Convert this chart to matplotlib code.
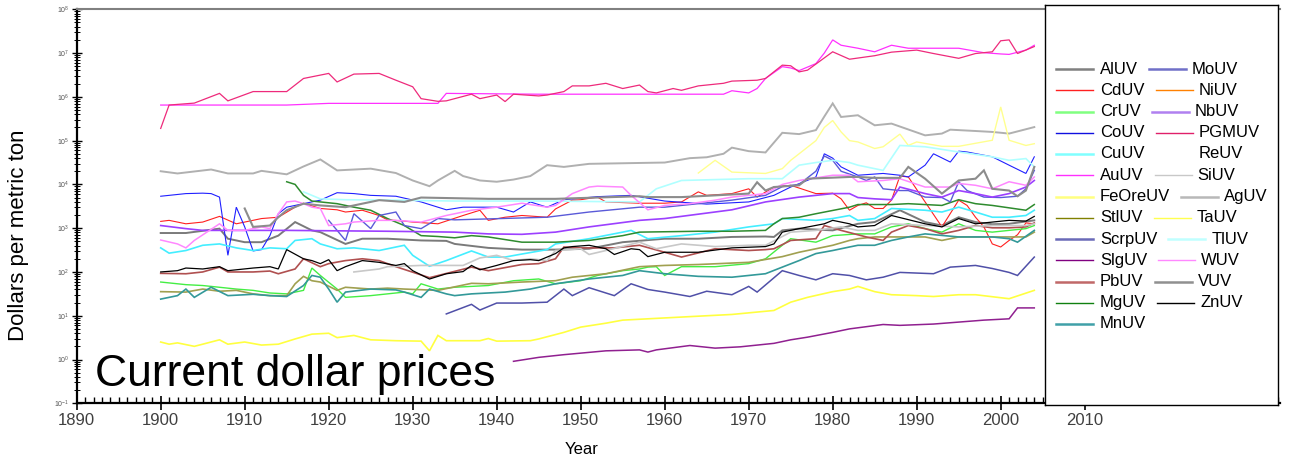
import matplotlib
matplotlib.use("Agg")
import matplotlib.pyplot as plt
from matplotlib.ticker import LogLocator, NullFormatter, FixedLocator, MultipleLocator

# ---- data: unit values, dollars per metric ton ----
au_years = [1900,1915,1920,1933,1934,1945,1955,1967,1968,1970,1971,1972,1974,1975,1976,1978,1979,1980,1981,1983,1985,1987,1989,1991,1995,1998,2000,2001,2003,2004]
au_vals = [6.5e5,6.5e5,7.1e5,7.1e5,1.2e6,1.15e6,1.15e6,1.15e6,1.38e6,1.23e6,1.55e6,2.63e6,4.9e6,4.57e6,3.98e6,5.75e6,1.0e7,2.0e7,1.51e7,1.29e7,1.07e7,1.51e7,1.29e7,1.29e7,1.29e7,1.02e7,9.55e6,9.33e6,1.17e7,1.51e7]

pgm_years = [1900,1901,1904,1907,1908,1911,1915,1917,1920,1921,1923,1926,1928,1930,1931,1933,1934,1937,1938,1940,1941,1942,1945,1946,1948,1949,1951,1953,1955,1957,1958,1959,1961,1962,1964,1967,1968,1971,1972,1974,1975,1976,1977,1980,1982,1985,1987,1990,1992,1995,1997,1999,2000,2001,2002,2004]
pgm_vals = [1.9e5,6.5e5,7.2e5,1.2e6,8.1e5,1.32e6,1.32e6,2.63e6,3.43e6,2.19e6,3.31e6,3.43e6,2.4e6,1.7e6,9.1e5,7.9e5,8.1e5,1.15e6,9.1e5,1.1e6,7.8e5,1.15e6,1.05e6,1.1e6,1.32e6,1.78e6,1.78e6,2.04e6,1.55e6,1.86e6,1.32e6,1.23e6,1.55e6,1.41e6,1.78e6,2.04e6,2.29e6,2.4e6,2.63e6,5.3e6,5.13e6,3.72e6,4.07e6,1.07e7,7.24e6,8.71e6,1.05e7,1.17e7,9.77e6,7.59e6,9.77e6,1.07e7,1.91e7,2.0e7,9.77e6,1.41e7]

ag_years = [1900,1902,1906,1908,1911,1912,1915,1917,1919,1921,1925,1928,1930,1932,1933,1935,1936,1938,1940,1942,1944,1946,1948,1951,1957,1960,1963,1965,1967,1968,1970,1972,1974,1976,1978,1979,1980,1981,1983,1985,1987,1991,1993,1994,1997,1999,2001,2004]
ag_vals = [2.0e4,1.78e4,2.19e4,1.78e4,1.78e4,2.04e4,1.7e4,2.57e4,3.72e4,2.09e4,2.29e4,1.82e4,1.23e4,9.1e3,1.23e4,2.04e4,1.55e4,1.23e4,1.15e4,1.29e4,1.55e4,2.75e4,2.51e4,2.95e4,3.09e4,3.16e4,3.98e4,4.17e4,5.01e4,6.92e4,5.75e4,5.37e4,1.51e5,1.41e5,1.74e5,3.55e5,7.08e5,3.47e5,3.8e5,2.24e5,2.45e5,1.32e5,1.45e5,1.78e5,1.66e5,1.58e5,1.45e5,2.04e5]

ta_years = [1964,1966,1968,1972,1974,1975,1976,1978,1979,1980,1981,1982,1983,1985,1986,1988,1989,1990,1993,1995,1999,2000,2001,2003,2004]
ta_vals = [1.82e4,3.55e4,1.91e4,1.78e4,2.29e4,3.55e4,5.01e4,1.0e5,2.0e5,2.88e5,1.58e5,1.0e5,9.33e4,6.61e4,7.24e4,1.41e5,7.76e4,9.33e4,7.41e4,7.41e4,1.02e5,5.89e5,1.02e5,7.76e4,8.51e4]

fe_years = [1900,1901,1902,1904,1905,1907,1908,1910,1912,1914,1916,1918,1920,1921,1923,1925,1928,1931,1932,1933,1934,1938,1939,1940,1944,1945,1948,1950,1953,1955,1958,1960,1963,1968,1973,1975,1977,1980,1982,1983,1985,1987,1990,1992,1995,1997,2001,2004]
fe_vals = [2.51,2.24,2.4,2.0,2.24,2.82,2.24,2.51,2.14,2.24,2.95,3.8,3.98,3.16,3.55,2.82,2.69,2.63,1.58,3.55,2.69,2.69,3.02,2.63,2.69,2.95,4.17,5.5,6.76,7.94,8.51,8.91,9.55,10.7,13.2,20.4,26.3,35.5,40.7,46.8,35.5,30.2,28.8,27.5,30.2,30.2,24.5,38.0]

tl_years = [1917,1919,1922,1928,1935,1945,1957,1959,1962,1970,1974,1976,1978,1980,1982,1983,1985,1986,1988,1991,1995,1999,2001,2003,2004]
tl_vals = [6760,4680,4470,4370,4170,4170,3980,7940,12300,13500,13500,27500,31600,35500,31600,27500,22900,20900,77600,72400,55000,42700,35500,38900,25100]

co_years = [1900,1903,1905,1906,1907,1908,1909,1910,1911,1912,1913,1914,1915,1917,1919,1921,1923,1925,1928,1931,1934,1936,1940,1942,1944,1946,1948,1952,1956,1960,1965,1970,1973,1975,1978,1979,1980,1981,1983,1986,1988,1989,1991,1992,1994,1995,1996,1999,2001,2003,2004]
co_vals = [5370,6170,6310,6170,5130,240,3020,1070,302,324,676,2140,3020,3630,4370,6460,6170,5620,5370,3980,2630,3020,3020,2340,3980,3020,4470,5250,5620,4170,3550,3980,5620,8710,14800,50100,39800,25100,16200,17800,16200,14800,27500,50100,32400,57500,55000,42700,27500,17800,42700]

mo_years = [1920,1922,1923,1925,1926,1928,1929,1931,1933,1935,1946,1951,1957,1960,1964,1968,1972,1974,1976,1978,1979,1980,1981,1983,1984,1985,1986,1988,1989,1991,1993,1994,1995,1996,1998,2000,2002,2003,2004]
mo_vals = [1510,525,2140,977,1950,2340,1150,977,1660,1550,1780,2340,3020,3020,3630,4370,5620,8910,10000,20000,44700,35500,20000,14800,12300,14800,7940,7240,7240,5130,5010,3980,11500,7240,5130,5010,5370,7940,20900]

scrp_years = [1934,1937,1938,1940,1943,1946,1948,1949,1951,1954,1956,1958,1960,1963,1965,1968,1970,1971,1974,1976,1978,1980,1982,1984,1986,1988,1992,1994,1997,1999,2001,2002,2004]
scrp_vals = [11.0,18.2,13.5,19.5,19.5,20.4,40.7,28.8,43.7,28.8,53.7,39.8,34.7,27.5,36.3,30.2,46.8,34.7,107,83.2,66.1,91.2,83.2,66.1,75.9,97.7,91.2,129,141,120,97.7,83.2,219]

slg_years = [1942,1945,1948,1953,1957,1958,1959,1963,1966,1969,1973,1975,1977,1980,1982,1986,1988,1992,1998,2001,2002,2004]
slg_vals = [0.91,1.12,1.29,1.58,1.66,1.48,1.66,2.09,1.82,1.95,2.34,2.82,3.24,4.17,5.01,6.31,6.03,6.46,7.94,8.51,15.1,15.1]

cd_years = [1900,1901,1903,1905,1907,1909,1910,1912,1914,1916,1917,1919,1921,1922,1924,1926,1927,1929,1930,1933,1936,1938,1939,1941,1943,1946,1947,1949,1950,1952,1953,1957,1960,1962,1964,1965,1968,1970,1971,1973,1975,1978,1980,1981,1982,1983,1984,1985,1986,1987,1988,1989,1991,1993,1995,1996,1997,1998,1999,2000,2001,2002,2003,2004]
cd_vals = [1430,1510,1260,1380,1860,1260,1380,1660,1780,3020,3720,2820,2630,2340,2570,1950,1550,1450,1380,1260,1950,2570,1510,1780,1950,1780,2750,4370,4470,5130,3980,3720,3720,3980,6760,5620,6170,7940,5130,8710,9550,6170,6310,4680,2570,3310,3800,2820,2820,4370,15500,14800,3980,1070,4370,3310,1780,1070,437,372,525,708,1320,1260]

nb_years = [1900,1903,1905,1915,1927,1935,1939,1943,1947,1951,1957,1960,1964,1968,1972,1976,1980,1982,1983,1985,1987,1988,1991,1993,1995,1997,1999,2001,2003,2004]
nb_vals = [1150,977,891,891,851,813,741,724,813,1070,1510,1660,2090,2630,3980,5130,6170,6170,5010,4680,4470,8710,6170,5130,7240,6170,5130,6170,8710,12300]

w_years = [1900,1902,1903,1904,1907,1908,1910,1912,1913,1914,1915,1916,1917,1918,1919,1920,1922,1923,1926,1928,1931,1934,1937,1940,1943,1946,1947,1949,1951,1952,1955,1956,1958,1960,1963,1966,1968,1972,1974,1976,1980,1982,1983,1986,1988,1991,1994,1995,1997,1999,2001,2003,2004]
w_vals = [537,437,355,525,1260,891,891,1070,977,2140,3980,4170,3630,3020,2820,1150,1260,1380,1510,1510,1380,1950,2570,3020,3720,3020,3310,6170,8710,9120,8710,5620,2630,3310,3630,4370,5130,6170,10000,12300,16200,16200,11500,12300,13500,8710,8710,10500,9550,7940,11500,9550,14800]

v_years = [1910,1911,1913,1914,1915,1917,1919,1922,1923,1926,1929,1931,1939,1947,1957,1958,1962,1966,1970,1971,1972,1973,1976,1977,1982,1983,1985,1988,1989,1991,1993,1994,1995,1997,1998,1999,2001,2002,2003,2004]
v_vals = [2820,1070,1150,1780,2570,3630,3310,3020,3310,4370,3980,5010,4680,4680,5370,5130,5130,5620,6170,11200,7240,8710,9550,13500,14800,14800,14100,14100,25100,13500,6170,8710,12300,13500,20900,7940,7240,5370,7240,25100]

al_years = [1900,1903,1907,1908,1910,1912,1914,1916,1918,1919,1922,1924,1927,1931,1934,1935,1939,1943,1947,1951,1955,1960,1964,1968,1972,1973,1974,1976,1980,1983,1985,1988,1991,1993,1995,1997,1999,2001,2004]
al_vals = [776,776,977,575,479,479,676,1380,891,813,437,575,575,525,513,437,355,324,324,339,479,575,575,631,646,631,891,977,891,1260,1380,2570,1380,1150,1780,1380,1230,1260,1510]

cu_years = [1900,1901,1903,1905,1907,1909,1911,1913,1915,1916,1918,1919,1921,1923,1926,1929,1930,1932,1934,1937,1939,1941,1943,1946,1947,1951,1955,1956,1958,1962,1966,1970,1973,1974,1978,1980,1982,1983,1985,1987,1991,1993,1995,1997,1999,2001,2003,2004]
cu_vals = [355,269,309,407,437,355,309,355,339,525,575,437,339,355,309,407,240,135,182,302,219,219,257,324,437,575,813,891,575,676,813,1070,1260,1660,1510,1660,1950,1510,1660,2820,2570,2340,3020,2340,1780,1780,1950,2570]

zn_years = [1900,1902,1903,1905,1907,1908,1911,1913,1914,1915,1917,1918,1919,1920,1921,1922,1924,1926,1928,1929,1930,1932,1934,1936,1937,1938,1940,1942,1944,1945,1947,1948,1949,1951,1953,1954,1956,1957,1958,1960,1964,1968,1972,1973,1974,1976,1979,1980,1982,1983,1985,1987,1991,1993,1995,1997,1999,2001,2003,2004]
zn_vals = [100,107,123,117,132,107,123,132,117,324,200,182,155,191,107,132,182,166,141,155,107,69,91,102,141,112,141,182,191,182,263,355,380,407,339,251,339,324,224,282,282,355,380,437,813,977,1260,1510,1260,1070,1150,1950,1260,1070,1660,1260,1380,1510,1450,1860]

pb_years = [1900,1903,1905,1907,1908,1911,1913,1914,1916,1917,1919,1920,1922,1924,1926,1928,1932,1937,1939,1943,1945,1947,1948,1950,1952,1954,1957,1960,1962,1966,1970,1972,1973,1975,1978,1979,1981,1983,1984,1986,1987,1989,1991,1993,1995,1997,1999,2001,2003,2004]
pb_vals = [93,91,100,129,100,100,105,91,117,200,132,155,182,200,182,132,74,129,107,148,155,200,372,355,355,355,407,282,219,339,309,324,339,525,575,1150,891,708,631,525,813,1150,977,741,891,1150,1020,1020,1070,1320]

si_years = [1923,1926,1927,1931,1936,1938,1940,1942,1944,1946,1947,1950,1951,1953,1957,1959,1962,1966,1970,1972,1975,1978,1981,1983,1985,1987,1991,1995,1999,2003,2004]
si_vals = [100,117,132,141,141,209,240,182,200,182,309,339,251,309,479,339,437,380,407,407,813,891,1070,891,891,1260,1150,1070,1150,1150,1260]

mg_years = [1915,1916,1917,1918,1921,1923,1925,1927,1929,1931,1933,1935,1937,1939,1943,1947,1951,1955,1957,1964,1968,1972,1973,1974,1976,1978,1982,1983,1987,1989,1993,1995,1997,1999,2003,2004]
mg_vals = [11500,10000,5620,4170,3630,3020,2570,1660,1150,676,646,603,676,631,479,479,525,676,813,851,851,891,1260,1660,1780,2140,3020,3470,3470,3630,3310,4470,3630,3310,2570,3470]

cr_years = [1900,1903,1905,1907,1909,1911,1913,1915,1917,1918,1919,1921,1922,1925,1927,1929,1930,1931,1933,1935,1939,1942,1945,1947,1950,1952,1955,1957,1958,1959,1960,1962,1966,1970,1972,1974,1975,1978,1980,1983,1985,1987,1989,1991,1993,1995,1997,1999,2001,2003,2004]
cr_vals = [58.9,51.3,49,44.7,40.7,38,33.1,31.6,38,123,83.2,40.7,26.3,28.8,31.6,34.7,31.6,53.7,40.7,44.7,49,63.1,69.2,53.7,63.1,83.2,107,117,129,132,83.2,132,132,155,200,407,575,479,676,741,741,1070,1260,977,813,1260,891,813,891,977,1150]

stl_years = [1900,1903,1905,1907,1909,1911,1913,1915,1916,1917,1918,1919,1921,1922,1925,1927,1929,1933,1937,1939,1943,1947,1949,1953,1957,1960,1964,1970,1974,1976,1980,1982,1983,1985,1991,1993,1995,1999,2003,2004]
stl_vals = [35.5,34.7,40.7,36.3,38,31.6,28.8,28.8,53.7,79.4,63.1,58.9,38,44.7,40.7,42.7,40.7,38,55,53.7,58.9,63.1,75.9,91.2,132,141,148,166,224,282,407,525,575,631,631,525,631,631,631,813]

mn_years = [1900,1902,1903,1904,1906,1908,1911,1913,1915,1917,1918,1919,1920,1921,1922,1925,1928,1929,1931,1932,1934,1935,1937,1941,1944,1947,1951,1955,1957,1960,1964,1968,1972,1974,1976,1978,1980,1982,1983,1985,1987,1989,1991,1995,1999,2001,2002,2004]
mn_vals = [24,28.8,40.7,26.3,44.7,28.8,30.9,28.8,27.5,49,83.2,75.9,40.7,20.4,34.7,40.7,38.9,34.7,26.3,40.7,31.6,28.8,31.6,34.7,40.7,53.7,69.2,83.2,107,91.2,79.4,75.9,91.2,129,182,263,309,372,407,407,525,631,741,631,631,575,479,891]

# name, years, values, colour, line width
series = [
    ("AlUV", al_years, al_vals, "#7a7a7a", 1.4),
    ("CdUV", cd_years, cd_vals, "#ff2020", 0.8),
    ("CrUV", cr_years, cr_vals, "#44ee44", 1.0),
    ("CoUV", co_years, co_vals, "#2020ff", 0.8),
    ("CuUV", cu_years, cu_vals, "#44eeff", 1.2),
    ("AuUV", au_years, au_vals, "#ff30ff", 0.9),
    ("FeOreUV", fe_years, fe_vals, "#ffff40", 1.2),
    ("StlUV", stl_years, stl_vals, "#a0a050", 1.2),
    ("ScrpUV", scrp_years, scrp_vals, "#5050a8", 1.1),
    ("SlgUV", slg_years, slg_vals, "#902090", 1.1),
    ("PbUV", pb_years, pb_vals, "#b05050", 1.2),
    ("MgUV", mg_years, mg_vals, "#2e8b2e", 1.1),
    ("MnUV", mn_years, mn_vals, "#339999", 1.2),
    ("MoUV", mo_years, mo_vals, "#5a5ad8", 1.0),
    ("NiUV", [], [], "#ff8000", 0.8),
    ("NbUV", nb_years, nb_vals, "#9c40ff", 1.2),
    ("PGMUV", pgm_years, pgm_vals, "#ee2a7b", 0.9),
    ("ReUV", [], [], "#ffffff", 0.8),
    ("SiUV", si_years, si_vals, "#c8c8c8", 1.2),
    ("AgUV", ag_years, ag_vals, "#b0b0b0", 1.4),
    ("TaUV", ta_years, ta_vals, "#ffff90", 1.0),
    ("TlUV", tl_years, tl_vals, "#b0ffff", 1.2),
    ("WUV", w_years, w_vals, "#ff88ff", 1.1),
    ("VUV", v_years, v_vals, "#8c8c8c", 1.5),
    ("ZnUV", zn_years, zn_vals, "#000000", 0.9),
]

legend_rows = [("AlUV", "MoUV"), ("CdUV", "NiUV"), ("CrUV", "NbUV"), ("CoUV", "PGMUV"),
               ("CuUV", "ReUV"), ("AuUV", "SiUV"), ("FeOreUV", "AgUV"), ("StlUV", "TaUV"),
               ("ScrpUV", "TlUV"), ("SlgUV", "WUV"), ("PbUV", "VUV"), ("MgUV", "ZnUV"),
               ("MnUV", None)]
legend_colors = {"AlUV": "#808080", "MoUV": "#7070c8", "CdUV": "#ff2020", "NiUV": "#ff8000",
                 "CrUV": "#80ff80", "NbUV": "#b080f0", "CoUV": "#1010e0", "PGMUV": "#e0206a",
                 "CuUV": "#80ffff", "ReUV": "#ffffff", "AuUV": "#ff30ff", "SiUV": "#c8c8c8",
                 "FeOreUV": "#ffff80", "AgUV": "#b8b8b8", "StlUV": "#808000", "TaUV": "#ffff50",
                 "ScrpUV": "#6a6ab8", "TlUV": "#c0ffff", "SlgUV": "#800080", "WUV": "#ff88ff",
                 "PbUV": "#c06868", "VUV": "#909090", "MgUV": "#108010", "ZnUV": "#000000",
                 "MnUV": "#40a0a8"}
thick = {"AlUV", "MoUV", "CrUV", "NbUV", "CuUV", "FeOreUV", "AgUV", "ScrpUV", "PbUV", "MnUV", "TlUV", "VUV"}

plt.rcParams["font.family"] = ["Liberation Sans", "DejaVu Sans"]

W, H = 1289, 463
fig = plt.figure(figsize=(W / 100, H / 100), dpi=100)
ax = fig.add_axes([76.7 / W, 1 - 403.3 / H, (1280 - 76.7) / W, (403.3 - 9.3) / H])

for name, yrs, vals, col, lw in series:
    if len(yrs):
        ax.plot(yrs, vals, color=col, lw=lw, solid_joinstyle="miter")

ax.set_yscale("log")
ax.set_ylim(0.1, 1e8)
ax.set_xlim(1890, 1890 + (1280 - 76.7) / 8.4)

ax.xaxis.set_major_locator(FixedLocator(list(range(1890, 2011, 10))))
ax.xaxis.set_minor_locator(MultipleLocator(1))
ax.set_xticklabels([str(y) for y in range(1890, 2011, 10)],
                   fontsize=12, color="#404040",
                   family=["Liberation Sans Narrow", "Liberation Sans"])
ax.tick_params(axis="x", which="major", direction="inout", length=10, width=1.2, pad=2)
ax.tick_params(axis="x", which="minor", direction="in", length=4, width=1.0)

ax.yaxis.set_major_locator(LogLocator(base=10, numticks=20))
ax.yaxis.set_minor_locator(LogLocator(base=10, subs=range(2, 10), numticks=20))
ax.yaxis.set_minor_formatter(NullFormatter())
ax.tick_params(axis="y", which="major", direction="inout", length=7, width=1.0, labelsize=5,
               labelcolor="#555555", pad=2)
ax.tick_params(axis="y", which="minor", direction="inout", length=4, width=0.7)

for s in ("left", "bottom"):
    ax.spines[s].set_linewidth(1.6)
ax.spines["top"].set_color("#808080")
ax.spines["top"].set_linewidth(1.5)
ax.spines["right"].set_visible(False)

fig.text(95 / W, 1 - 386 / H, "Current dollar prices", fontsize=32, ha="left", va="baseline")
fig.text(582 / W, 1 - 450 / H, "Year", fontsize=12, ha="center", va="center")
fig.text(19 / W, 1 - 235 / H, "Dollars per metric ton", fontsize=16, rotation=90,
         ha="center", va="center")

# legend panel drawn by hand so the second column flows after each label
lx0, ly0, lx1, ly1 = 1045, 5, 1278, 405
lax = fig.add_axes([lx0 / W, 1 - ly1 / H, (lx1 - lx0) / W, (ly1 - ly0) / H])
lax.set_xlim(lx0, lx1)
lax.set_ylim(ly1, ly0)
lax.set_xticks([])
lax.set_yticks([])
for sp in lax.spines.values():
    sp.set_linewidth(1.0)
    sp.set_color("black")

renderer = fig.canvas.get_renderer()
for i, (left, right) in enumerate(legend_rows):
    y = 69 + i * 21.25
    lax.plot([1056, 1093], [y, y], color=legend_colors[left],
             lw=1.8 if left in thick else 1.0)
    t = lax.text(1100, y, left, fontsize=12, va="center", ha="left")
    if right is None:
        continue
    bb = t.get_window_extent(renderer)
    xr = lax.transData.inverted().transform((bb.x1, 0))[0]
    lax.plot([xr + 11, xr + 48], [y, y], color=legend_colors[right],
             lw=1.8 if right in thick else 1.0)
    lax.text(xr + 54, y, right, fontsize=12, va="center", ha="left")

fig.savefig("out.png", dpi=100)
